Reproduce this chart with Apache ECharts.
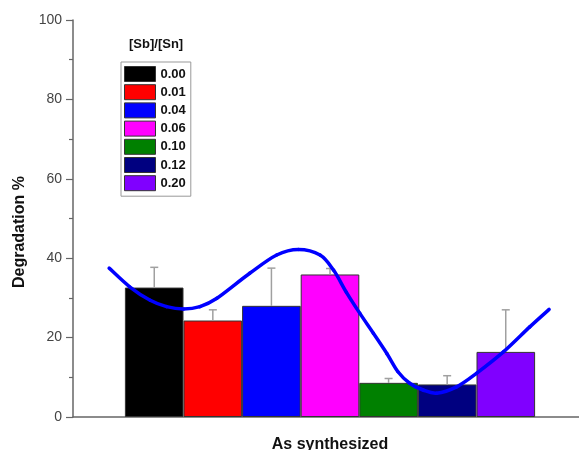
<!DOCTYPE html>
<html>
<head>
<meta charset="utf-8">
<script src="https://cdn.jsdelivr.net/npm/echarts@6/dist/echarts.min.js"></script>
<style>
html,body{margin:0;padding:0;background:#fff;}
#c{width:579px;height:450px;}
</style>
</head>
<body>
<div id="c"></div>
<script>
// ---- data ----
var category = ['As synthesized'];
var ratios = ['0.00', '0.01', '0.04', '0.06', '0.10', '0.12', '0.20'];
var degradation = [32.6, 24.3, 28.0, 35.9, 8.6, 8.2, 16.4];
var errorUp = [5.1, 2.7, 9.5, 1.5, 1.1, 2.2, 10.6];
var barColors = ['#000000', '#ff0000', '#0000ff', '#ff00ff', '#008000', '#000080', '#8000ff'];
// trend curve, x in bar-position units (0 = first bar centre), y in %
var curveX = [-0.77, -0.42, -0.07, 0.21, 0.50, 0.78, 1.07, 1.63, 2.09, 2.46, 2.83, 3.06, 3.28, 3.51, 3.74, 3.97, 4.16, 4.36, 4.59, 4.82, 5.16, 5.50, 5.96, 6.41, 6.74];
var curveY = [37.5, 32.8, 29.4, 27.8, 27.2, 27.8, 29.9, 36.2, 40.8, 42.2, 40.8, 37.0, 31.4, 26.1, 21.1, 16.0, 11.4, 8.5, 6.8, 6.0, 7.6, 11.0, 16.4, 22.7, 27.1];
var yTicks = [0, 20, 40, 60, 80, 100];

var chart = echarts.init(document.getElementById('c'), null, {renderer: 'canvas'});
var font = 'Liberation Sans, Arial, Helvetica, sans-serif';

var series = [];
ratios.forEach(function (r, i) {
  series.push({
    name: r,
    type: 'bar',
    xAxisIndex: 0,
    yAxisIndex: 0,
    barWidth: 58.6,
    barGap: '0%',
    itemStyle: {color: barColors[i], borderColor: '#333', borderWidth: 1},
    data: [degradation[i]],
    z: 2
  });
});

var errData = degradation.map(function (v, i) { return [i, v, v + errorUp[i]]; });
series.push({
  type: 'custom',
  xAxisIndex: 1,
  yAxisIndex: 0,
  z: 3,
  renderItem: function (params, api) {
    var x = api.value(0);
    var p0 = api.coord([x, api.value(1)]);
    var p1 = api.coord([x, api.value(2)]);
    var st = {stroke: '#a0a0a0', lineWidth: 1.5};
    return {
      type: 'group',
      children: [
        {type: 'line', shape: {x1: p0[0], y1: p0[1], x2: p1[0], y2: p1[1]}, style: st},
        {type: 'line', shape: {x1: p1[0] - 4, y1: p1[1], x2: p1[0] + 4, y2: p1[1]}, style: st}
      ]
    };
  },
  data: errData
});

// smooth trend curve (Catmull-Rom through the points, drawn via the axis scales)
var n = curveX.length;
series.push({
  type: 'custom',
  xAxisIndex: 1,
  yAxisIndex: 0,
  z: 5,
  clip: false,
  renderItem: function (params, api) {
    var i = params.dataIndex;
    if (i >= n - 1) return null;
    function P(k) {
      k = Math.max(0, Math.min(n - 1, k));
      return api.coord([curveX[k], curveY[k]]);
    }
    var p0 = P(i - 1), p1 = P(i), p2 = P(i + 1), p3 = P(i + 2);
    return {
      type: 'bezierCurve',
      shape: {
        x1: p1[0], y1: p1[1], x2: p2[0], y2: p2[1],
        cpx1: p1[0] + (p2[0] - p0[0]) / 6, cpy1: p1[1] + (p2[1] - p0[1]) / 6,
        cpx2: p2[0] - (p3[0] - p1[0]) / 6, cpy2: p2[1] - (p3[1] - p1[1]) / 6
      },
      style: {stroke: '#0000ff', lineWidth: 3.5, fill: null, lineCap: 'round'}
    };
  },
  data: curveX.map(function (x, i) { return [x, curveY[i]]; })
});

chart.setOption({
  animation: false,
  backgroundColor: '#ffffff',
  textStyle: {fontFamily: font},
  grid: {left: 73, top: 20, width: 514, bottom: 33, containLabel: false, outerBoundsMode: 'none'},
  legend: {
    data: ratios,
    orient: 'vertical',
    left: 121,
    top: 62,
    icon: 'rect',
    itemWidth: 31,
    itemHeight: 15,
    itemGap: 2.2,
    padding: [4, 5, 5, 3],
    borderColor: '#999',
    borderWidth: 1,
    itemStyle: {borderColor: '#333', borderWidth: 1},
    textStyle: {fontSize: 13, fontWeight: 'bold', color: '#111', lineHeight: 15, fontFamily: font}
  },
  graphic: [
    {type: 'text', left: 129, top: 38, style: {text: '[Sb]/[Sn]', font: 'bold 13px ' + font, fill: '#111'}},
    {type: 'text', x: 20, y: 232, rotation: Math.PI / 2,
      style: {text: 'Degradation %', font: 'bold 16px ' + font, fill: '#111', textAlign: 'center', textVerticalAlign: 'middle'}}
  ],
  xAxis: [
    {
      type: 'category',
      data: category,
      axisLine: {lineStyle: {color: '#666', width: 1.5}},
      axisTick: {show: false},
      axisLabel: {fontSize: 16, fontWeight: 'bold', color: '#111', margin: 20, fontFamily: font},
      splitLine: {show: false}
    },
    {
      type: 'value',
      show: false,
      min: -1.387,
      max: 7.387
    }
  ],
  yAxis: {
    type: 'value',
    min: 0,
    max: 100,
    interval: 20,
    axisLine: {show: true, onZero: false, lineStyle: {color: '#666', width: 1.5}},
    axisTick: {show: true, inside: false, length: 7, lineStyle: {color: '#666', width: 1.2}},
    minorTick: {show: true, splitNumber: 2, length: 4, lineStyle: {color: '#666', width: 1.2}},
    axisLabel: {fontSize: 14, color: '#444', margin: 11, fontFamily: font,
      formatter: function (v) { return yTicks.indexOf(v) >= 0 ? String(v) : ''; }},
    splitLine: {show: false}
  },
  series: series
});
</script>
</body>
</html>
